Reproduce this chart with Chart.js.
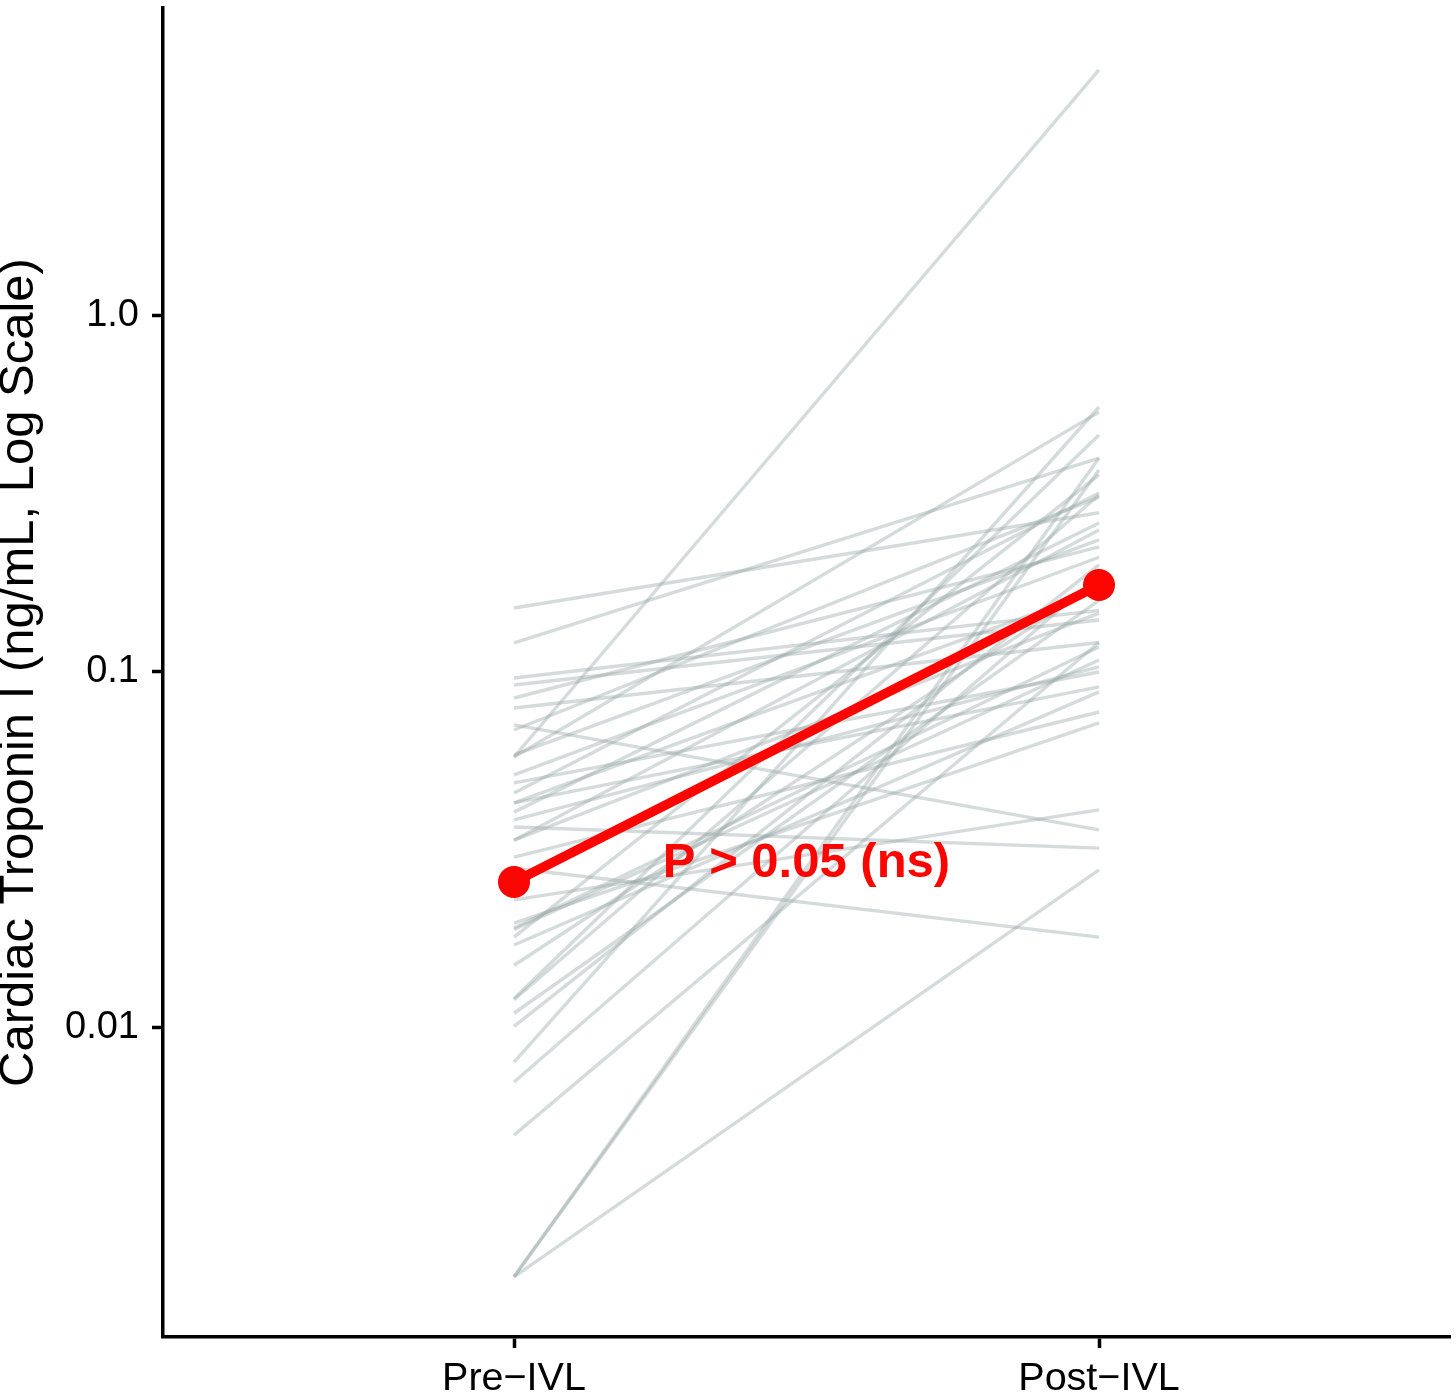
<!DOCTYPE html>
<html><head><meta charset="utf-8">
<script src="https://cdn.jsdelivr.net/npm/chart.js@4/dist/chart.umd.min.js"></script>
<style>html,body{margin:0;padding:0;background:#fff;} canvas{display:block;}</style>
</head><body>
<canvas id="c" width="1456" height="1392"></canvas>
<script>
const categories = ['Pre\u2212IVL', 'Post\u2212IVL'];
const preValues = [0.0577, 0.1513, 0.1207, 0.0962, 0.0919, 0.0845, 0.0792, 0.0710, 0.0687, 0.0585,
  0.0514, 0.0488, 0.0457, 0.0429, 0.0404, 0.0384, 0.0367, 0.0337, 0.0302, 0.0281,
  0.0229, 0.0197, 0.0191, 0.0180, 0.0171, 0.0150, 0.0121, 0.0110, 0.0101, 0.00802,
  0.00705, 0.0050, 0.0020, 0.0020, 0.0020, 0.0577, 0.0429, 0.0337, 0.0120, 0.0189];
const postValues = [4.91, 0.280, 0.399, 0.149, 0.140, 0.2245, 0.121, 0.036, 0.310, 0.235,
  0.210, 0.100, 0.318, 0.0908, 0.262, 0.1033, 0.032, 0.1464, 0.0772, 0.018,
  0.041, 0.0719, 0.1176, 0.358, 0.0879, 0.178, 0.463, 0.159, 0.200, 0.555,
  0.187, 0.121, 0.399, 0.369, 0.0278, 0.537, 0.170, 0.2505, 0.314, 0.108];
const meanValues = [0.0257, 0.1755];
const yTickValues = [0.01, 0.1, 1];
const yTickLabels = ['0.01', '0.1', '1.0'];
const yTitle = 'Cardiac Troponin I (ng/mL, Log Scale)';
const annotationText = 'P > 0.05 (ns)';
const annotationAnchor = {x: 0.5, y: 0.0266};

const RED = 'rgb(252,4,0)';
const GRAY = 'rgba(149,165,166,0.4)';
const FONT = '"Liberation Sans", Arial, Helvetica, sans-serif';

const datasets = [];
datasets.push({
  data: meanValues.map((v, i) => ({x: i, y: v})),
  borderColor: RED, backgroundColor: RED, borderWidth: 9.5,
  pointRadius: 16, pointBorderWidth: 0, pointBackgroundColor: RED,
  order: -1
});
preValues.forEach((pv, i) => {
  datasets.push({
    data: [{x: 0, y: pv}, {x: 1, y: postValues[i]}],
    borderColor: GRAY, borderWidth: 3.4, pointRadius: 0, order: 1
  });
});

const annotationPlugin = {
  id: 'pAnnot',
  afterDatasetsDraw(chart) {
    const ctx = chart.ctx;
    const x = chart.scales.x.getPixelForValue(annotationAnchor.x);
    const y = chart.scales.y.getPixelForValue(annotationAnchor.y);
    ctx.save();
    ctx.font = 'bold 49px ' + FONT;
    ctx.fillStyle = RED;
    ctx.textAlign = 'center';
    ctx.textBaseline = 'alphabetic';
    ctx.fillText(annotationText, x, y);
    ctx.restore();
  }
};

new Chart(document.getElementById('c'), {
  type: 'line',
  data: {datasets},
  plugins: [annotationPlugin],
  options: {
    responsive: false,
    animation: false,
    devicePixelRatio: 1,
    layout: {autoPadding: false, padding: {top: 8, right: 6, left: 0, bottom: 0}},
    plugins: {legend: {display: false}, tooltip: {enabled: false}},
    scales: {
      x: {
        type: 'linear', min: -0.6, max: 1.6,
        afterBuildTicks(s) { s.ticks = categories.map((c, i) => ({value: i})); },
        afterFit(s) { s.height = 55; s.paddingLeft = 0; s.paddingRight = 0; },
        ticks: {
          autoSkip: false, maxRotation: 0, padding: 7,
          color: '#000', font: {family: FONT, size: 39.5},
          callback: (v, i) => categories[i]
        },
        grid: {drawOnChartArea: false, drawTicks: true, tickLength: 11, tickWidth: 3.5, tickColor: '#000'},
        border: {display: true, color: '#000', width: 3.5}
      },
      y: {
        type: 'logarithmic', min: 0.001355, max: 7.33,
        afterBuildTicks(s) { s.ticks = yTickValues.map(v => ({value: v})); },
        afterFit(s) { s.width = 163; s.paddingTop = 0; s.paddingBottom = 0; },
        ticks: {
          autoSkip: false, padding: 13,
          color: '#000', font: {family: FONT, size: 38},
          callback: (v, i) => yTickLabels[i]
        },
        title: {
          display: true, text: yTitle, color: '#000',
          padding: 0, font: {family: FONT, size: 49, lineHeight: 0.776}
        },
        grid: {drawOnChartArea: false, drawTicks: true, tickLength: 11, tickWidth: 3.5, tickColor: '#000'},
        border: {display: true, color: '#000', width: 3.5}
      }
    }
  }
});
</script>
</body></html>
